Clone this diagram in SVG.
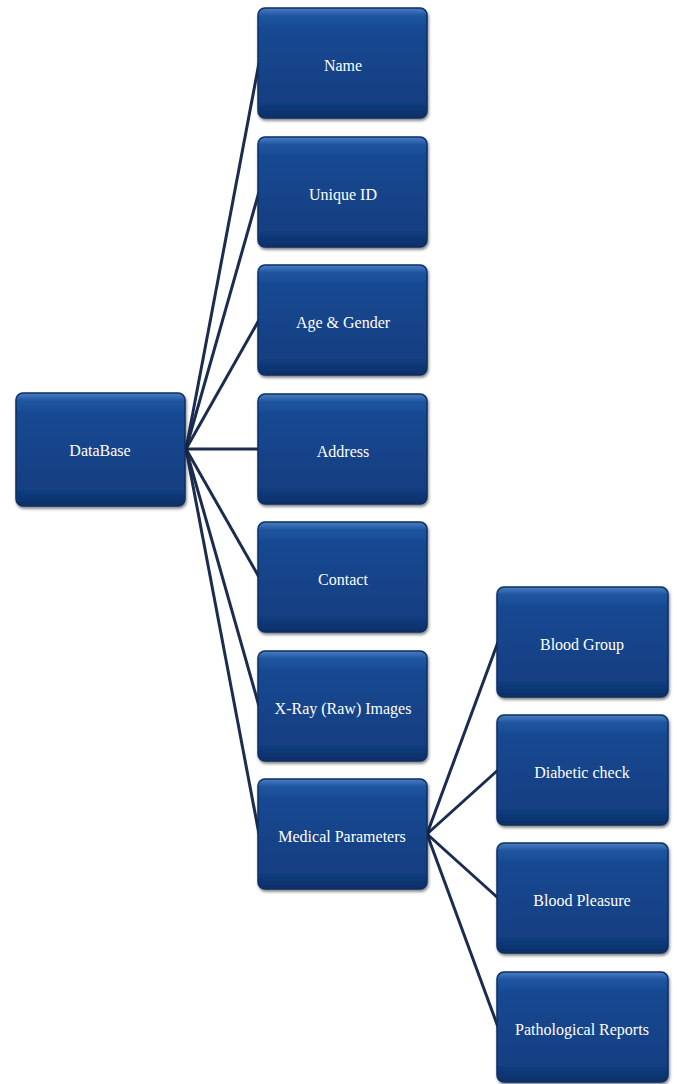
<svg xmlns="http://www.w3.org/2000/svg" width="677" height="1084" viewBox="0 0 677 1084">
<defs>
<linearGradient id="bx" x1="0" y1="0" x2="0" y2="1">
<stop offset="0" stop-color="#4a7fc4"/>
<stop offset="0.07" stop-color="#1f55a0"/>
<stop offset="0.2" stop-color="#164891"/>
<stop offset="0.85" stop-color="#123f82"/>
<stop offset="1" stop-color="#0b2f66"/>
</linearGradient>
<filter id="sh" x="-10%" y="-10%" width="125%" height="130%">
<feGaussianBlur in="SourceAlpha" stdDeviation="1.5"/>
<feOffset dx="1" dy="2" result="b"/>
<feComponentTransfer><feFuncA type="linear" slope="0.5"/></feComponentTransfer>
<feMerge><feMergeNode/><feMergeNode in="SourceGraphic"/></feMerge>
</filter>
</defs>
<style>
.box{fill:url(#bx);stroke:#0d2f63;stroke-width:1.5;filter:url(#sh)}
.lbl{fill:#ffffff;font-family:"Liberation Serif","Times New Roman",serif;font-size:16px;text-anchor:middle;dominant-baseline:central}
.cn{stroke:#1b2c4f;stroke-width:3;fill:none}
</style>
<rect width="677" height="1084" fill="#ffffff"/>
<g id="connectors">
<line class="cn" x1="186" y1="449" x2="259" y2="63"/>
<line class="cn" x1="186" y1="449" x2="259" y2="192"/>
<line class="cn" x1="186" y1="449" x2="259" y2="320"/>
<line class="cn" x1="186" y1="449" x2="259" y2="449"/>
<line class="cn" x1="186" y1="449" x2="259" y2="577"/>
<line class="cn" x1="186" y1="449" x2="259" y2="706"/>
<line class="cn" x1="186" y1="449" x2="259" y2="834"/>
<line class="cn" x1="427" y1="834" x2="498" y2="642"/>
<line class="cn" x1="427" y1="834" x2="498" y2="770"/>
<line class="cn" x1="427" y1="834" x2="498" y2="898"/>
<line class="cn" x1="427" y1="834" x2="498" y2="1027"/>
</g>
<g id="database"><rect class="box" x="16" y="393" width="169" height="113" rx="7"/><text class="lbl" x="100" y="450">DataBase</text></g>
<g id="name"><rect class="box" x="258" y="8" width="169" height="110" rx="7"/><text class="lbl" x="343" y="65">Name</text></g>
<g id="uniqueid"><rect class="box" x="258" y="137" width="169" height="110" rx="7"/><text class="lbl" x="343" y="194">Unique ID</text></g>
<g id="agegender"><rect class="box" x="258" y="265" width="169" height="110" rx="7"/><text class="lbl" x="343" y="322">Age &amp; Gender</text></g>
<g id="address"><rect class="box" x="258" y="394" width="169" height="110" rx="7"/><text class="lbl" x="343" y="451">Address</text></g>
<g id="contact"><rect class="box" x="258" y="522" width="169" height="110" rx="7"/><text class="lbl" x="343" y="579">Contact</text></g>
<g id="xray"><rect class="box" x="258" y="651" width="169" height="110" rx="7"/><text class="lbl" x="343" y="708">X-Ray (Raw) Images</text></g>
<g id="medical"><rect class="box" x="258" y="779" width="169" height="110" rx="7"/><text class="lbl" x="342" y="836">Medical Parameters</text></g>
<g id="bloodgroup"><rect class="box" x="497" y="587" width="171" height="110" rx="7"/><text class="lbl" x="582" y="644">Blood Group</text></g>
<g id="diabetic"><rect class="box" x="497" y="715" width="171" height="110" rx="7"/><text class="lbl" x="582" y="772">Diabetic check</text></g>
<g id="bloodpleasure"><rect class="box" x="497" y="843" width="171" height="110" rx="7"/><text class="lbl" x="582" y="900">Blood Pleasure</text></g>
<g id="pathological"><rect class="box" x="497" y="972" width="171" height="110" rx="7"/><text class="lbl" x="582" y="1029">Pathological Reports</text></g>
</svg>
